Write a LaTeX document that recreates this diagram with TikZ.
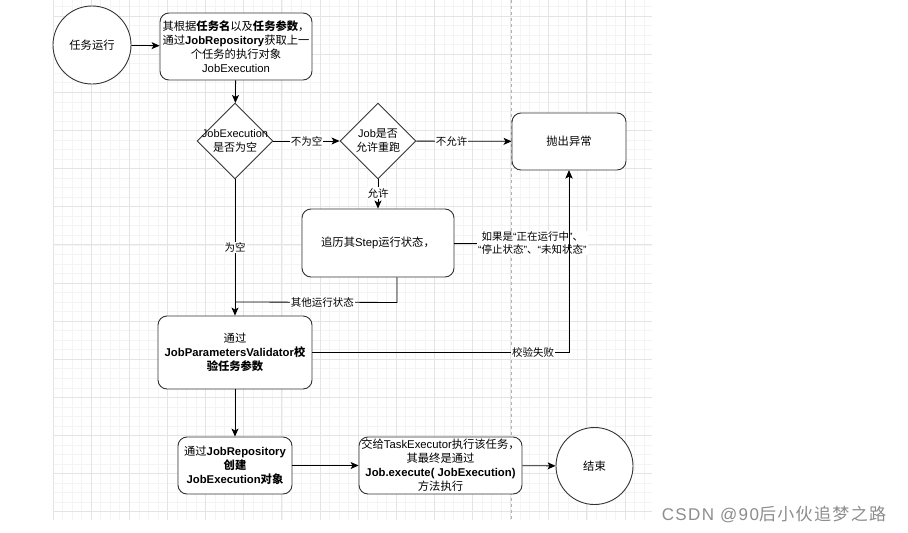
\documentclass[tikz,border=0pt]{standalone}
\usepackage{fontspec}
\setmainfont{Noto Sans CJK SC}
\newfontfamily\en{Liberation Sans}
\newfontfamily\wm[LetterSpace=8]{Liberation Sans}
\newfontfamily\wmcjk[LetterSpace=8]{Noto Sans CJK SC}
\usetikzlibrary{shapes.geometric,arrows.meta}

\definecolor{gridmajor}{HTML}{E4E4E4}
\definecolor{gridminor}{HTML}{F4F4F4}
\definecolor{edgegray}{HTML}{333333}

\tikzset{
  proc/.style={draw=edgegray, fill=white, rounded corners=9pt, line width=0.9pt,
    align=center, inner sep=0pt, font=\fontsize{11.3}{14}\selectfont},
  decide/.style={diamond, aspect=1, draw=edgegray, fill=white, line width=0.9pt,
    align=center, inner sep=-12pt, minimum width=76pt, minimum height=76pt,
    font=\fontsize{11}{14}\selectfont},
  term/.style={circle, draw=edgegray, fill=white, line width=0.9pt, inner sep=0pt,
    font=\fontsize{11.3}{14}\selectfont},
  lbl/.style={fill=white, inner sep=1pt, align=center, font=\fontsize{10.5}{12.5}\selectfont},
  flow/.style={draw=black, line width=0.8pt, -{Stealth[length=8pt,width=7pt,inset=2pt]}},
  link/.style={draw=black, line width=0.8pt}
}

\begin{document}
\begin{tikzpicture}[x=1pt,y=-1pt]
  \useasboundingbox (0,0) rectangle (908,533);
  % grid
  \foreach \i in {0,1,...,62}
    \draw [gridminor, line width=0.5pt] (53+9.533*\i,0) -- (53+9.533*\i,520);
  \foreach \i in {-1,0,...,52}
    \draw [gridminor, line width=0.5pt] (53,16+9.533*\i) -- (652,16+9.533*\i);
  \foreach \i in {0,1,...,15}
    \draw [gridmajor, line width=0.7pt] (53+38.13*\i,0) -- (53+38.13*\i,520);
  \foreach \i in {0,1,...,13}
    \draw [gridmajor, line width=0.7pt] (53,16+38.13*\i) -- (652,16+38.13*\i);
  \draw [black!30, dash pattern=on 3pt off 3pt, line width=0.6pt] (511.4,0) -- (511.4,520);

  % nodes
  \node [term, minimum size=78pt] (start) at (92,45) {任务运行};
  \node [proc, minimum width=152pt, minimum height=67pt] (qu) at (236,46.5)
    {其根据\textbf{任务名}以及\textbf{任务参数}，\\通过{\en\bfseries JobRepository}获取上一\\个任务的执行对象\\{\en JobExecution}};
  \node [decide] (kong) at (235,141) {{\en JobExecution}\\是否为空};
  \node [decide] (chongpao) at (378,141) {{\en Job}是否\\允许重跑};
  \node [proc, minimum width=114pt, minimum height=57pt] (paochu) at (569,141.5) {抛出异常};
  \node [proc, minimum width=152pt, minimum height=68pt] (bian) at (378,243) {追历其{\en Step}运行状态，};
  \node [proc, minimum width=154pt, minimum height=73pt] (jiaoyan) at (235,352.5)
    {通过\\{\en\bfseries JobParametersValidator}\textbf{校}\\\textbf{验任务参数}};
  \node [proc, minimum width=114pt, minimum height=57pt] (chuangjian) at (235,465.5)
    {通过{\en\bfseries JobRepository}\\\textbf{创建}\\{\en\bfseries JobExecution}\textbf{对象}};
  \node [proc, minimum width=163pt, minimum height=57pt] (zhixing) at (440.5,465.5)
    {交给{\en TaskExecutor}执行该任务，\\其最终是通过\\{\en\bfseries Job.execute( JobExecution)}\\方法执行};
  \node [term, minimum size=77pt] (jieshu) at (594.5,466) {结束};
  \coordinate (merge) at (235,302);

  % connectors
  \draw [flow] (start) -- (qu);
  \draw [flow] (qu) -- (kong);
  \draw [flow] (kong) -- node [lbl] {不为空} (chongpao);
  \draw [flow] (chongpao) -- node [lbl, pos=0.37] {不允许} (paochu);
  \draw [flow] (chongpao) -- node [lbl, pos=0.47] {允许} (bian);
  \draw [flow] (kong) -- node [lbl, pos=0.5] {为空} (jiaoyan);
  \draw [link] ([xshift=19pt]bian.south) -- ++(0,25) -- node [lbl, pos=0.46] {其他运行状态} (merge);
  \draw [flow] (bian.east) -- node [lbl, pos=0.68]
    {如果是{\en “}正在运行中{\en ”}、\\{\en “}停止状态{\en ”}、{\en “}未知状态{\en ”}} (bian.east -| paochu.south) -- (paochu.south);
  \draw [flow] (jiaoyan.east) -- node [lbl, pos=0.86] {校验失败} (jiaoyan.east -| paochu.south) -- (paochu.south);
  \draw [flow] (jiaoyan) -- (chuangjian);
  \draw [flow] (chuangjian) -- (zhixing);
  \draw [flow] (zhixing) -- (jieshu);

  \node [text=black!45, font=\fontsize{17}{19}\selectfont] (mark) at (774,514)
    {{\wm CSDN @90}{\wmcjk 后小伙追梦之路}};
\end{tikzpicture}
\end{document}
